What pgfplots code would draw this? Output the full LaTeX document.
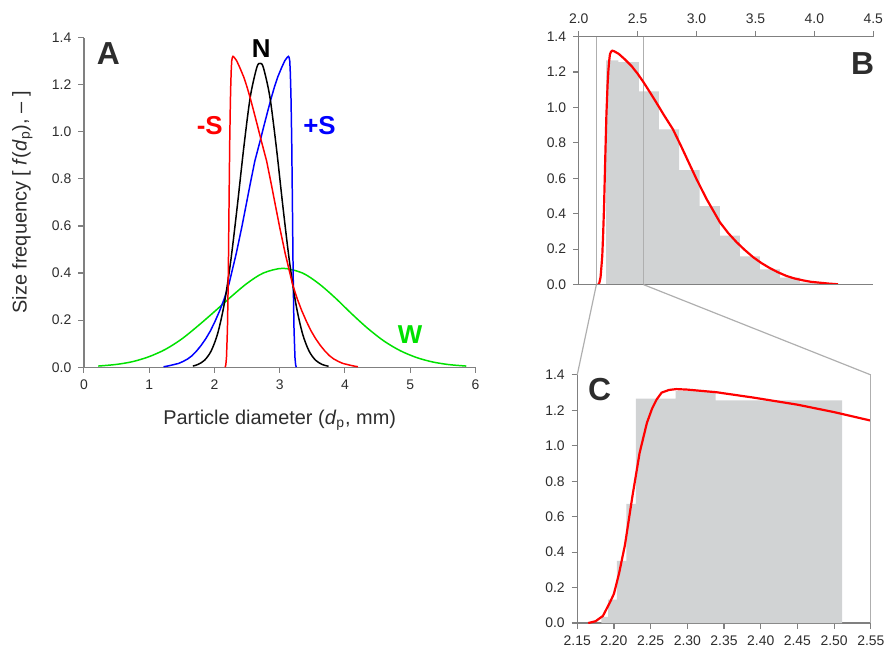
\documentclass[border=0pt]{standalone}
\usepackage{fontspec}
\setmainfont{Liberation Sans}
\usepackage{pgfplots}
\pgfplotsset{compat=1.18}
\usepackage{pgfplotstable}

\definecolor{axgray}{RGB}{128,128,128}
\definecolor{histgray}{RGB}{209,211,212}
\definecolor{guidegray}{RGB}{175,175,175}
\definecolor{cred}{RGB}{255,0,0}
\definecolor{cblue}{RGB}{0,0,255}
\definecolor{cgreen}{RGB}{0,225,0}
\definecolor{txt}{RGB}{45,45,45}

% -S curve (skewed), also the fitted curve of B and C
\pgfplotstableread{
x y
2.165 0
2.175 0.01
2.185 0.04
2.195 0.12
2.200 0.165
2.207 0.28
2.215 0.44
2.225 0.71
2.235 0.96
2.245 1.13
2.252 1.21
2.258 1.26
2.265 1.30
2.275 1.315
2.285 1.32
2.30 1.317
2.34 1.302
2.39 1.272
2.45 1.232
2.50 1.19
2.55 1.142
2.60 1.09
2.66 1.026
2.72 0.96
2.80 0.876
2.87 0.78
2.94 0.68
3.00 0.595
3.085 0.483
3.198 0.352
3.27 0.29
3.339 0.24
3.41 0.195
3.48 0.155
3.55 0.122
3.62 0.094
3.69 0.070
3.763 0.049
3.83 0.035
3.904 0.024
3.97 0.016
4.045 0.011
4.12 0.006
4.20 0.002
}\redtab

% +S curve
\pgfplotstableread{
x y
1.22 0.002
1.30 0.006
1.375 0.011
1.45 0.016
1.516 0.024
1.59 0.035
1.657 0.049
1.73 0.070
1.80 0.094
1.87 0.122
1.94 0.155
2.01 0.195
2.081 0.24
2.15 0.29
2.222 0.352
2.335 0.483
2.42 0.595
2.48 0.68
2.55 0.78
2.62 0.876
2.70 0.96
2.76 1.026
2.82 1.09
2.87 1.142
2.92 1.19
2.97 1.232
3.03 1.272
3.08 1.302
3.12 1.317
3.135 1.32
3.145 1.315
3.155 1.30
3.162 1.26
3.168 1.21
3.175 1.13
3.185 0.96
3.195 0.71
3.205 0.44
3.213 0.28
3.22 0.165
3.225 0.12
3.235 0.04
3.245 0.01
3.255 0
}\bluetab

% N curve
\pgfplotstableread{
x y
1.67 0.005
1.75 0.012
1.85 0.030
1.95 0.069
2.05 0.143
2.15 0.267
2.25 0.450
2.35 0.682
2.45 0.932
2.55 1.148
2.65 1.273
2.70 1.290
2.75 1.273
2.85 1.148
2.95 0.932
3.05 0.682
3.15 0.450
3.25 0.267
3.35 0.143
3.45 0.069
3.55 0.030
3.65 0.012
3.75 0.004
}\blacktab

% W curve
\pgfplotstableread{
x y
0.22 0.005
0.50 0.012
0.75 0.024
1.00 0.045
1.25 0.076
1.50 0.120
1.75 0.176
2.00 0.236
2.25 0.298
2.50 0.356
2.75 0.400
3.05 0.420
3.35 0.400
3.60 0.355
3.85 0.295
4.10 0.228
4.35 0.165
4.60 0.111
4.85 0.070
5.10 0.041
5.35 0.022
5.60 0.011
5.86 0.005
}\greentab

% histogram shown in B (left edges, last row closes the last bin)
\pgfplotstableread{
x y
2.232 1.265
2.336 1.255
2.511 1.091
2.681 0.876
2.853 0.646
3.025 0.443
3.198 0.277
3.367 0.160
3.537 0.086
3.706 0.040
3.876 0.012
4.046 0.012
}\histB

% fine histogram shown in C
\pgfplotstableread{
x y
2.183 0.034
2.192 0.132
2.204 0.350
2.217 0.672
2.230 1.266
2.284 1.310
2.3385 1.256
2.511 1.256
}\histC

\pgfplotsset{
  panel/.style={
    scale only axis,
    anchor=south west,
    /pgf/number format/assume math mode=true,
    tick label style={font=\fontsize{7}{8}\selectfont, text=txt},
    axis line style={axgray, line width=0.7pt},
    tick style={axgray, line width=0.6pt},
    major tick length=2.8pt,
    tick align=outside,
    separate axis lines,
    axis y line*=left,
    ymin=0, ymax=1.4,
    ytick={0,0.2,0.4,0.6,0.8,1.0,1.2,1.4},
    y tick label style={/pgf/number format/.cd, fixed, fixed zerofill, precision=1},
  },
}
\tikzset{
  letter/.style={font=\fontsize{16}{18}\selectfont\bfseries, text=txt},
  clabel/.style={font=\fontsize{13}{15}\selectfont\bfseries},
}

\begin{document}
\begin{tikzpicture}
\path (0,0) rectangle (445.5pt,324.5pt);

% ---------- A ----------
\begin{axis}[panel,
  at={(42.15pt,140pt)}, width=196.7pt, height=165.65pt,
  axis x line*=bottom,
  xmin=0, xmax=6, xtick={0,1,2,3,4,5,6},
  xlabel={Particle diameter (\textit{d}\textsubscript{p}, mm)},
  ylabel={Size frequency [ \textit{f}(\textit{d}\textsubscript{p}), \textendash{} ]},
  label style={font=\fontsize{10}{12}\selectfont, text=txt},
  xlabel style={at={(axis description cs:0.5,-0.16)}, anchor=center},
  ylabel style={at={(axis description cs:-0.157,0.5)}, anchor=center},
]
\addplot[cgreen, line width=0.75pt, smooth] table {\greentab};
\addplot[cblue, line width=0.75pt] table {\bluetab};
\addplot[black, line width=0.75pt, smooth] table {\blacktab};
\addplot[cred, line width=0.75pt] table {\redtab};
\node[letter] at (axis cs:0.377,1.333) {A};
\node[clabel, text=black] at (axis cs:2.718,1.352) {N};
\node[clabel, text=cred] at (axis cs:1.928,1.025) {-S};
\node[clabel, text=cblue] at (axis cs:3.61,1.025) {+S};
\node[clabel, text=cgreen] at (axis cs:4.998,0.137) {W};
\end{axis}

% ---------- B ----------
\begin{axis}[panel,
  at={(290.75pt,181.5pt)}, width=148pt, height=124.65pt,
  axis x line*=top,
  xmin=2, xmax=4.5, xtick={2,2.5,3,3.5,4,4.5},
  x tick label style={/pgf/number format/.cd, fixed, fixed zerofill, precision=1},
]
\addplot[const plot mark left, fill=histgray, draw=none] table {\histB} \closedcycle;
\draw[guidegray, line width=0.6pt] (axis cs:2.15,0) -- (axis cs:2.15,1.4);
\draw[guidegray, line width=0.6pt] (axis cs:2.55,0) -- (axis cs:2.55,1.4);
\addplot[cred, line width=1.1pt] table {\redtab};
\draw[axgray, line width=0.7pt] (axis cs:2,0) -- (axis cs:4.5,0);
\coordinate (B1) at (axis cs:2.15,0);
\coordinate (B2) at (axis cs:2.55,0);
\node[letter] at (axis cs:4.409,1.249) {B};
\end{axis}

% ---------- C ----------
\begin{axis}[panel,
  at={(290pt,11.5pt)}, width=147.5pt, height=124.65pt,
  axis x line*=bottom,
  xmin=2.15, xmax=2.55, xtick={2.15,2.2,2.25,2.3,2.35,2.4,2.45,2.5,2.55},
  x tick label style={/pgf/number format/.cd, fixed, fixed zerofill, precision=2},
]
\addplot[const plot mark left, fill=histgray, draw=none] table {\histC} \closedcycle;
\addplot[cred, line width=1.1pt] table {\redtab};
\draw[guidegray, line width=0.6pt] (axis cs:2.55,0) -- (axis cs:2.55,1.4);
\coordinate (C1) at (axis cs:2.15,1.4);
\coordinate (C2) at (axis cs:2.55,1.4);
\node[letter] at (axis cs:2.1805,1.317) {C};
\end{axis}

\draw[guidegray, line width=0.6pt] (B1) -- (C1);
\draw[guidegray, line width=0.6pt] (B2) -- (C2);
\end{tikzpicture}
\end{document}
